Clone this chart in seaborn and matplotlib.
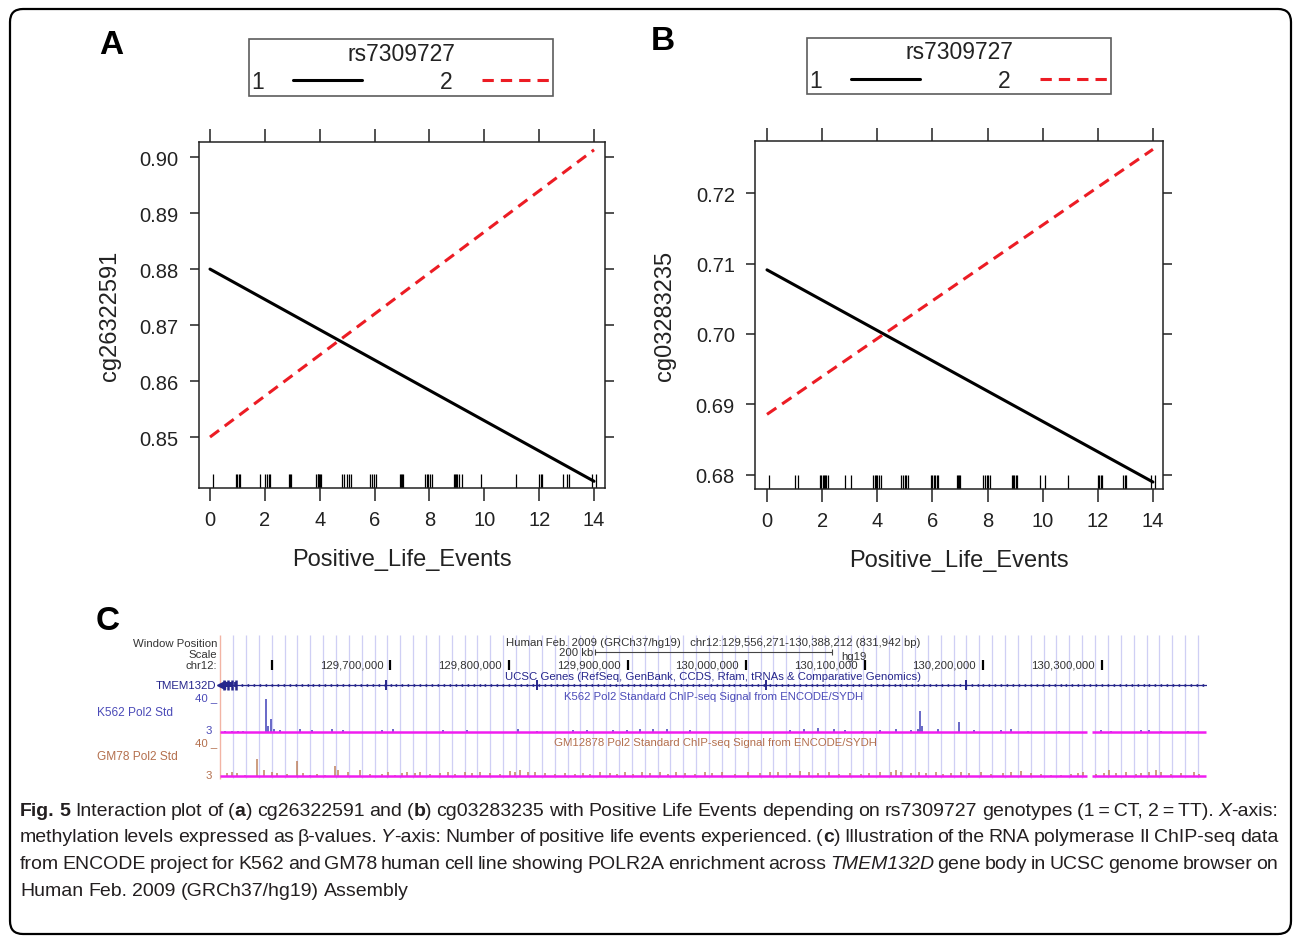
"""
Fig. 5 re-drawn: interaction plots of two CpG sites against positive life
events split by rs7309727 genotype (A, B) and a UCSC browser style view of
Pol2 ChIP-seq signal over TMEM132D (C), with the caption underneath.
"""

import re

import numpy as np
import pandas as pd
import matplotlib
matplotlib.use('Agg')
import matplotlib.pyplot as plt
import seaborn as sns
from matplotlib.lines import Line2D
from matplotlib.patches import FancyBboxPatch, Rectangle
from matplotlib.offsetbox import TextArea, HPacker, AnnotationBbox

sns.set_style('ticks')
plt.rcParams['font.family'] = ['Liberation Sans', 'DejaVu Sans']

W, H = 1293, 937
RED = '#ec1c24'
INK = '#222222'
NAVY = '#26268c'
BLUE = '#4b4bb8'
BROWN = '#b4704e'
MAGENTA = '#f01ef0'

# ---- panels A and B: fitted lines at the ends of the events range ----
events_ends = [0, 14]
x_ticks = [0, 2, 4, 6, 8, 10, 12, 14]

a_geno1 = [0.8800, 0.8421]
a_geno2 = [0.8500, 0.9013]
a_yticks = [0.85, 0.86, 0.87, 0.88, 0.89, 0.90]

b_geno1 = [0.7091, 0.6790]
b_geno2 = [0.6886, 0.7262]
b_yticks = [0.68, 0.69, 0.70, 0.71, 0.72]

# jittered observed event counts (rug)
rug_a = [0.12, 0.95, 1.0, 1.05, 1.09, 1.82, 2.02, 2.08, 2.14, 2.2,
         2.87, 2.92, 2.97, 3.88, 3.92, 3.95, 3.99, 4.02, 4.06,
         4.81, 4.9, 4.98, 5.06, 5.15, 5.82, 5.9, 5.98, 6.05,
         6.91, 6.96, 7.0, 7.05, 7.82, 7.9, 7.96, 8.02, 8.08,
         8.88, 8.93, 8.97, 9.02, 9.06, 9.2, 9.88, 11.15,
         11.98, 12.05, 12.12, 12.88, 13.0, 13.1, 13.94, 14.06]
rug_b = [0.08, 1.02, 1.14, 1.92, 1.97, 2.02, 2.06, 2.1, 2.14, 2.2,
         2.82, 3.03, 3.85, 3.9, 3.95, 4.0, 4.05, 4.12,
         4.87, 4.93, 4.99, 5.05, 5.11, 5.95, 6.0, 6.05, 6.1, 6.15, 6.21,
         6.88, 6.93, 6.97, 7.0, 7.84, 7.9, 7.97, 8.03, 8.09,
         8.87, 8.92, 8.97, 9.02, 9.07, 9.92, 10.1, 10.91,
         12.0, 12.05, 12.1, 12.16, 12.9, 12.97, 13.04, 13.94, 14.09]

# ---- panel C: chr12 window, positions in kb from window start ----
win_start = 129556271
win_end = 130388212
ruler_ticks = [129600000, 129700000, 129800000, 129900000,
               130000000, 130100000, 130200000, 130300000]
exon_kb = [140.1, 267.5, 460.8, 628.8]
first_exons_kb = [3.5, 6.8, 10.1, 13.4]
covered_kb = [(0.0, 731.5), (735.5, 831.9)]

k562_kb = [4.2, 10.1, 15.2, 19.4, 38.8, 40.5, 43.0, 45.6, 50.6, 67.5,
           77.6, 94.5, 103.8, 136.7, 146.0, 188.2, 208.5, 251.5, 267.5,
           297.9, 309.7, 331.7, 343.5, 354.5, 365.5, 377.3, 396.7, 481.1,
           492.1, 503.9, 517.4, 527.5, 541.8, 557.0, 569.7, 582.4, 588.3,
           590.0, 591.6, 605.1, 622.9, 635.5, 658.3, 666.8, 681.1, 707.3,
           742.7, 751.2, 776.5, 783.2, 793.4, 816.1]
k562_sig = [2, 2, 2, 2, 44, 8, 17, 4, 3, 4, 3, 4, 3, 3, 4, 3, 3, 4, 2,
            3, 3, 3, 3, 4, 4, 4, 3, 3, 5, 6, 5, 3, 2, 3, 5, 3, 4, 28, 8,
            4, 14, 3, 3, 4, 2, 2, 3, 2, 3, 3, 2, 2]

gm78_kb = [5.9, 10.1, 14.3, 21.1, 31.2, 37.1, 43.9, 48.1, 56.5, 65.0,
           70.1, 76.0, 81.9, 88.6, 97.1, 99.6, 108.0, 118.2, 126.6, 136.7,
           141.8, 147.7, 153.6, 157.8, 164.6, 168.8, 177.2, 185.7, 192.4,
           198.3, 206.8, 212.7, 219.4, 227.9, 236.3, 244.8, 249.0, 253.2,
           260.0, 265.9, 274.3, 282.7, 291.2, 299.6, 306.4, 312.3, 320.7,
           329.2, 335.1, 341.8, 348.6, 356.2, 362.9, 371.4, 378.1, 384.9,
           392.5, 400.9, 409.3, 415.2, 423.7, 434.7, 445.6, 455.8, 464.2,
           470.4, 481.1, 489.5, 496.3, 504.7, 513.2, 521.6, 531.7, 540.2,
           546.9, 557.0, 565.5, 569.7, 573.9, 582.4, 589.1, 595.0, 603.5,
           609.4, 616.1, 624.6, 631.3, 641.4, 649.9, 660.0, 666.8, 675.2,
           683.6, 692.1, 700.5, 709.0, 717.4, 723.3, 727.5, 738.5, 745.3,
           749.5, 755.4, 763.8, 772.3, 776.5, 783.2, 789.1, 793.4, 801.8,
           810.2, 821.2, 825.4]
gm78_sig = [4, 5, 4, 2, 21, 8, 5, 4, 3, 19, 4, 2, 3, 2, 13, 8, 5, 8, 3, 3,
            5, 2, 4, 5, 4, 6, 3, 4, 5, 3, 5, 4, 6, 4, 3, 7, 6, 8, 5, 6,
            4, 3, 4, 3, 4, 3, 5, 4, 3, 5, 3, 5, 4, 6, 3, 5, 4, 3, 6, 4,
            5, 3, 5, 4, 6, 5, 4, 7, 5, 4, 5, 3, 4, 3, 4, 5, 6, 8, 5, 4,
            6, 4, 5, 3, 4, 6, 4, 5, 3, 4, 6, 7, 4, 3, 2, 2, 3, 4, 5, 3,
            4, 8, 4, 5, 3, 4, 6, 8, 5, 3, 4, 5, 3]

caption_lines = [
    '{b:Fig.} {b:5} Interaction plot of ({b:a}) cg26322591 and ({b:b}) '
    'cg03283235 with Positive Life Events depending on rs7309727 genotypes '
    '(1\u2009=\u2009CT, 2\u2009=\u2009TT). {i:X}-axis:',
    'methylation levels expressed as \u03b2-values. {i:Y}-axis: Number of '
    'positive life events experienced. ({b:c}) Illustration of the RNA '
    'polymerase II ChIP-seq data',
    'from ENCODE project for K562 and GM78 human cell line showing POLR2A '
    'enrichment across {i:TMEM132D} gene body in UCSC genome browser on',
    'Human Feb. 2009 (GRCh37/hg19) Assembly',
]

fig = plt.figure(figsize=(W / 100, H / 100), dpi=100)


def rect(l, t, r, b):
    # pixel box (top-left origin) -> figure fraction rect
    return [l / W, 1 - b / H, (r - l) / W, (b - t) / H]


def ftext(x, y, s, **kw):
    return fig.text(x / W, 1 - y / H, s, **kw)


def interaction_panel(box, xlim, ylim, y1, y2, yticks, rug, ylabel,
                      leg_center, label_xy):
    ax = fig.add_axes(rect(*box))
    df = pd.DataFrame({'events': events_ends * 2,
                       'beta': y1 + y2,
                       'geno': ['1', '1', '2', '2']})
    sns.lineplot(data=df, x='events', y='beta', hue='geno', style='geno',
                 palette={'1': 'black', '2': RED},
                 dashes={'1': '', '2': (3.7, 2.3)},
                 linewidth=2.2, legend=False, ax=ax)
    sns.rugplot(x=rug, height=0.04, color='black', linewidth=0.9, ax=ax)

    ax.set_xlim(*xlim)
    ax.set_ylim(*ylim)
    ax.set_xticks(x_ticks)
    ax.set_yticks(yticks)
    ax.set_yticklabels([f'{v:.2f}' for v in yticks])
    ax.tick_params(direction='out', top=True, right=True, labeltop=False,
                   labelright=False, labelsize=14.5, color=INK, width=1.1,
                   labelcolor=INK)
    ax.tick_params(axis='x', length=9.5, pad=6)
    ax.tick_params(axis='y', length=6.5, pad=8)
    for s in ax.spines.values():
        s.set_color(INK)
        s.set_linewidth(1.1)

    l, t, r, b = box
    ax.set_xlabel('Positive_Life_Events', fontsize=17, color=INK,
                  va='center')
    ax.xaxis.set_label_coords(0.5, -(label_xy[1] - b) / (b - t))
    ax.set_ylabel(ylabel, fontsize=17, color=INK, va='center')
    ax.yaxis.set_label_coords(-(l - label_xy[0]) / (r - l), 0.5)

    handles = [Line2D([], [], color='black', lw=2.2),
               Line2D([], [], color=RED, lw=2.2, dashes=(3.7, 2.3))]
    leg = ax.legend(handles, ['1', '2'], title='rs7309727', ncol=2,
                    markerfirst=False, loc='center',
                    bbox_to_anchor=(leg_center[0] / W, 1 - leg_center[1] / H),
                    bbox_transform=fig.transFigure, fontsize=16.5,
                    title_fontsize=16.5, frameon=True, fancybox=False,
                    edgecolor='#333333', handlelength=3.0,
                    handletextpad=1.3, columnspacing=3.4, borderpad=0.1,
                    labelspacing=0.25, borderaxespad=0)
    leg.get_frame().set_linewidth(1.2)
    leg.get_title().set_color(INK)
    return ax


interaction_panel((199, 143, 605, 489), (-0.401, 14.40), (0.8409, 0.9027),
                  a_geno1, a_geno2, a_yticks, rug_a, 'cg26322591',
                  (401, 68.5), (110, 560))
interaction_panel((755, 142, 1163, 490), (-0.435, 14.365), (0.67801, 0.72738),
                  b_geno1, b_geno2, b_yticks, rug_b, 'cg03283235',
                  (959, 67), (665, 561))

for letter, (x, y) in zip('ABC', [(111, 45), (663, 42), (108, 621)]):
    ftext(x, y, letter, fontsize=24, fontweight='bold', ha='center',
          va='center', color='black')

# ---- panel C: browser view ----
cfs = 8.2
win_kb = (win_end - win_start) / 1000
axc = fig.add_axes(rect(220, 635, 1206.5, 783))
axc.set_xlim(0, win_kb)
axc.set_ylim(783, 635)
axc.axis('off')
axc.vlines(np.arange(11.0, win_kb, 10.85), 636, 779, color='#cfcff4', lw=0.9)
axc.vlines(0, 636, 780, color='#f2b4a4', lw=1.0, clip_on=False)

ruler_kb = [(t - win_start) / 1000 for t in ruler_ticks]
axc.vlines(ruler_kb, 661, 671, color='black', lw=1.6)
for t, k in zip(ruler_ticks[1:], ruler_kb[1:]):
    axc.text(k - 6.0, 666, f'{t:,}', ha='right', va='center', fontsize=cfs,
             color='#333333')

mid = win_kb / 2
axc.hlines(653, mid - 100, mid + 100, color='#444444', lw=0.8)
axc.vlines([mid - 100, mid + 100], 650, 656, color='#444444', lw=0.8)
axc.text(mid - 101, 653, '200 kb', ha='right', va='center', fontsize=cfs,
         color='#333333')
axc.text(mid + 108, 657.5, 'hg19', ha='left', va='center', fontsize=cfs,
         color='#333333')
axc.text(mid, 643, 'Human Feb. 2009 (GRCh37/hg19)   chr12:'
         f'{win_start:,}-{win_end:,} ({win_end - win_start + 1:,} bp)',
         ha='center', va='center', fontsize=cfs, color='#333333')
axc.text(mid, 677, 'UCSC Genes (RefSeq, GenBank, CCDS, Rfam, tRNAs & '
         'Comparative Genomics)', ha='center', va='center', fontsize=cfs,
         color=NAVY)
axc.text(mid, 697, 'K562 Pol2 Standard ChIP-seq Signal from ENCODE/SYDH',
         ha='center', va='center', fontsize=cfs, color=BLUE)
axc.text(mid + 2, 743, 'GM12878 Pol2 Standard ChIP-seq Signal from '
         'ENCODE/SYDH', ha='center', va='center', fontsize=cfs, color=BROWN)

# TMEM132D gene model (minus strand)
intron_marks = np.arange(18, win_kb, 5.0)
axc.hlines(686, 0, win_kb, color=NAVY, lw=0.9)
axc.plot(intron_marks, np.full(len(intron_marks), 686), ls='none',
         marker='<', ms=2.4, color=NAVY, mew=0)
axc.plot([0.8], [686], marker='<', ms=6, color=NAVY, clip_on=False)
axc.add_patch(Rectangle((first_exons_kb[0], 683.5),
                        first_exons_kb[-1] - first_exons_kb[0], 5,
                        color=NAVY, lw=0))
axc.vlines(first_exons_kb, 681, 691, color=NAVY, lw=1.8)
axc.vlines(exon_kb, 681, 691, color=NAVY, lw=1.4)

# ChIP-seq signal tracks
tracks = [((699, 733.3), k562_kb, k562_sig, 45.3, '#4040b8'),
          ((744, 777.4), gm78_kb, gm78_sig, 41.2, '#c0825c')]
for band, sig_kb, sig, top, col in tracks:
    axt = fig.add_axes(rect(220, band[0], 1206.5, band[1]))
    axt.set_xlim(0, win_kb)
    axt.set_ylim(0, top)
    axt.axis('off')
    axt.vlines(sig_kb, 0, np.minimum(sig, top), color=col, lw=1.1)
    axt.hlines([0] * len(covered_kb), [c[0] for c in covered_kb],
               [c[1] for c in covered_kb], color=MAGENTA, lw=1.8,
               clip_on=False)

side = dict(fontsize=cfs, va='center')
ftext(217, 644, 'Window Position', ha='right', color='#333333', **side)
ftext(217, 655, 'Scale', ha='right', color='#333333', **side)
ftext(217, 666, 'chr12:', ha='right', color='#333333', **side)
ftext(216, 686, 'TMEM132D', ha='right', color=NAVY, **side)
ftext(217, 698, '40 _', ha='right', color=BLUE, **side)
ftext(97, 713, 'K562 Pol2 Std', ha='left', color=BLUE, fontsize=8.6,
      va='center')
ftext(212, 731, '3', ha='right', color=BLUE, **side)
ftext(217, 743, '40 _', ha='right', color=BROWN, **side)
ftext(97, 757, 'GM78 Pol2 Std', ha='left', color=BROWN, fontsize=8.6,
      va='center')
ftext(212, 776, '3', ha='right', color=BROWN, **side)

# ---- caption, justified line by line ----
cap_font = ['Liberation Sans', 'DejaVu Sans']
cap_y = [812, 838, 865, 892]
packs = []
for line, y in zip(caption_lines, cap_y):
    words = []
    for word in line.split(' '):
        parts = []
        for piece in re.split(r'(\{[bi]:[^}]*\})', word):
            if not piece:
                continue
            props = dict(fontsize=14.0, color='#231f20', family=cap_font)
            if piece.startswith('{b:'):
                props['fontweight'] = 'bold'
                piece = piece[3:-1]
            elif piece.startswith('{i:'):
                props['fontstyle'] = 'italic'
                piece = piece[3:-1]
            parts.append(TextArea(piece, textprops=props))
        words.append(HPacker(children=parts, sep=0, pad=0, align='baseline'))
    hp = HPacker(children=words, sep=3.6, pad=0, align='baseline')
    ab = AnnotationBbox(hp, (20 / W, 1 - y / H), xycoords='figure fraction',
                        box_alignment=(0, 0.5), frameon=False, pad=0)
    fig.add_artist(ab)
    packs.append((hp, len(words)))

fig.canvas.draw()
renderer = fig.canvas.get_renderer()
for hp, n in packs[:-1]:
    width = hp.get_window_extent(renderer).width
    hp.sep = max(1.0, hp.sep + (1258 - width) * 72 / fig.dpi / (n - 1))

# rounded outer frame
fig.add_artist(FancyBboxPatch((0.10, 0.02), 12.81, 9.25,
                              boxstyle='round,pad=0,rounding_size=0.13',
                              transform=fig.dpi_scale_trans, fill=False,
                              edgecolor='black', lw=1.6))

fig.savefig('out.png', dpi=100)
